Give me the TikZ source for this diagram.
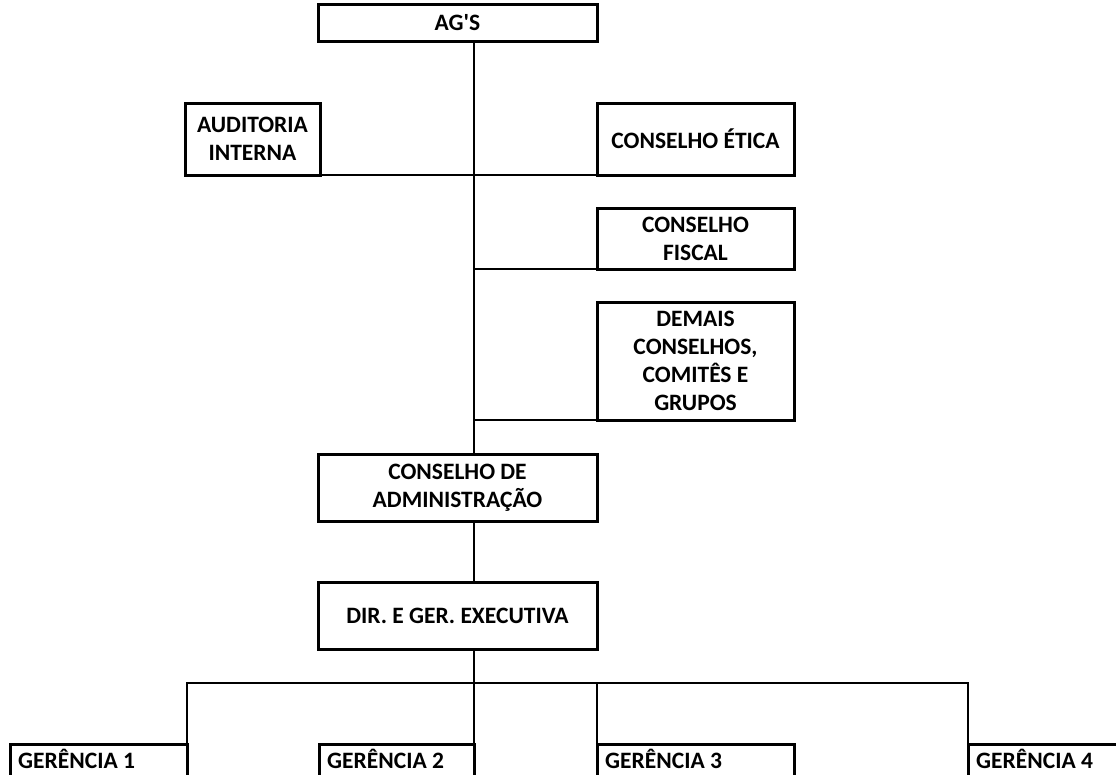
\documentclass[tikz,border=0pt]{standalone}
\usepackage{fontspec}
\setmainfont{Carlito}
\begin{document}
\begin{tikzpicture}[x=1pt,y=-1pt,
  txt/.style={font=\fontsize{23.5}{28}\selectfont\bfseries},
  box/.style={txt, draw, line width=3pt, align=center, inner sep=0pt, outer sep=0pt},
  gbox/.style={inner sep=0pt, outer sep=0pt, anchor=north west},
  conn/.style={line width=2pt}]
\useasboundingbox (0,0) rectangle (1116,774);
\fill[white] (0,0) rectangle (1116,774);
% main boxes
\node[box, minimum width=279pt, minimum height=37pt] (ag) at (457.5,22.5) {AG\textquotesingle S};
\node[box, minimum width=135pt, minimum height=72pt] (aud) at (252.5,139) {AUDITORIA\\INTERNA};
\node[box, minimum width=197pt, minimum height=72pt] (eti) at (695.5,139) {CONSELHO ÉTICA};
\node[box, minimum width=197pt, minimum height=61pt] (fis) at (695.5,238.5) {CONSELHO\\FISCAL};
\node[box, minimum width=197pt, minimum height=118pt] (dem) at (695.5,361) {DEMAIS\\CONSELHOS,\\COMITÊS E\\GRUPOS};
\node[box, minimum width=279pt, minimum height=67pt] (cda) at (457.5,487.5) {CONSELHO DE\\ADMINISTRAÇÃO};
\node[box, minimum width=279pt, minimum height=67pt] (dir) at (457.5,615.5) {DIR. E GER. EXECUTIVA};
% spine coordinates
\coordinate (top) at (474,41);
\coordinate (sFis) at (474,269);
\coordinate (sDem) at (474,420);
\coordinate (cdaT) at (474,454);
\coordinate (cdaB) at (474,521);
\coordinate (dirT) at (474,582);
\coordinate (dirB) at (474,649);
\coordinate (bus) at (474,683);
% gerencias
\node[gbox, minimum width=177pt, minimum height=40pt] (g1) at (10,744) {};
\node[gbox, minimum width=155pt, minimum height=40pt] (g2) at (319,744) {};
\node[gbox, minimum width=197pt, minimum height=40pt] (g3) at (597,744) {};
\node[gbox, minimum width=160pt, minimum height=40pt] (g4) at (968,744) {};
\foreach \g in {g1,g2,g3,g4}{
  \draw[line width=3pt] (\g.south west) -- (\g.north west) -- (\g.north east) -- (\g.south east);
}
\node[txt, anchor=west, inner sep=0pt] (t1) at ([xshift=8pt,yshift=-15pt]g1.north west) {GERÊNCIA 1};
\node[txt, anchor=west, inner sep=0pt] (t2) at ([xshift=8pt,yshift=-15pt]g2.north west) {GERÊNCIA 2};
\node[txt, anchor=west, inner sep=0pt] (t3) at ([xshift=8pt,yshift=-15pt]g3.north west) {GERÊNCIA 3};
\node[txt, anchor=west, inner sep=0pt] (t4) at ([xshift=8pt,yshift=-15pt]g4.north west) {GERÊNCIA 4};
% connectors
\draw[conn] (top) -- (cdaT);
\draw[conn] (cdaB) -- (dirT);
\draw[conn] (dirB) -- (bus);
\draw[conn] (aud.south east) -- (eti.south west);
\draw[conn] (sFis) -- (fis.south west);
\draw[conn] (sDem) -- (dem.south west);
\draw[conn] (g1.north east) -- (g1.north east |- bus) -- (g4.north west |- bus) -- (g4.north west);
\draw[conn] (g2.north east) -- (bus);
\draw[conn] (g3.north west) -- (g3.north west |- bus);
\end{tikzpicture}
\end{document}
